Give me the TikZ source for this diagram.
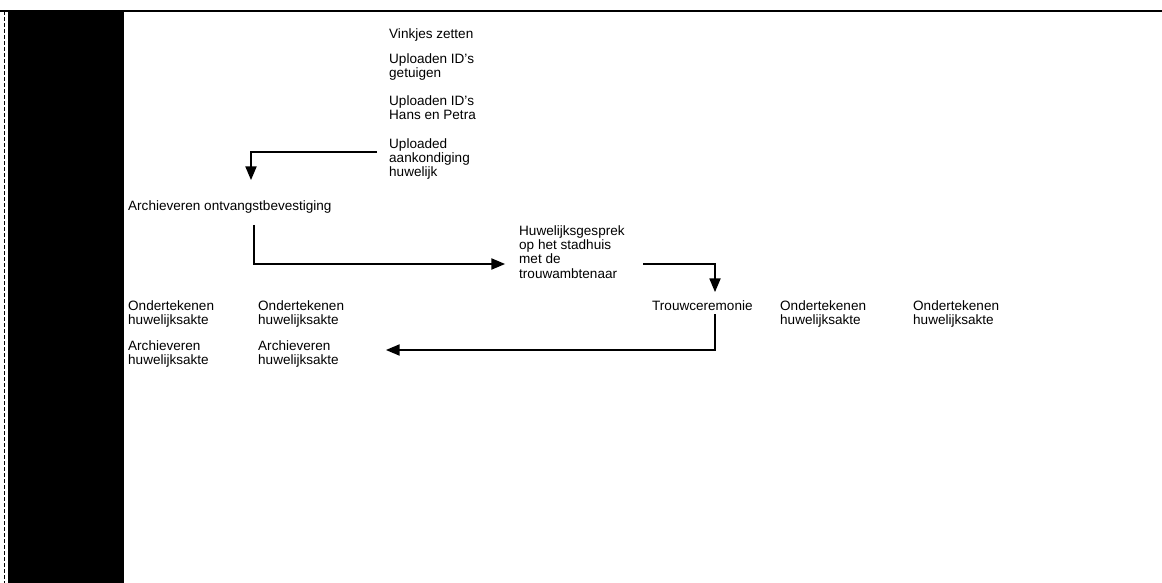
\documentclass[tikz,border=0pt]{standalone}
\usepackage{fontspec}
\setmainfont{Liberation Sans}
\usepackage{xcolor}
\usetikzlibrary{arrows}

\begin{document}
\begin{tikzpicture}[x=1bp,y=-1bp]
\tikzset{step text/.style={anchor=north west,inner sep=0pt,align=left,font=\fontsize{13.6}{14.5}\selectfont}}
\tikzset{flow/.style={line width=2.2bp,-triangle 45}}
\tikzset{rule/.style={line width=1.6bp}}

\useasboundingbox (0,0) rectangle (1162,583);
\fill[white] (0,0) rectangle (1162,583);
\fill[black] (8,11) rectangle (124,583);
\draw[rule] (0,11) -- (1162,11);
\draw[line width=0.8bp,dash pattern=on 4bp off 2bp] (4,11) -- (4,583);

\node[step text] (vink) at (389,28) {Vinkjes zetten};
\node[step text] (getuigen) at (389,53) {Uploaden ID's\\getuigen};
\node[step text] (hanspetra) at (389,95) {Uploaden ID's\\Hans en Petra};
\node[step text] (aankondiging) at (389,138) {Uploaded\\aankondiging\\huwelijk};
\node[step text] (ontvangst) at (128,200) {Archieveren ontvangstbevestiging};
\node[step text] (gesprek) at (519,225) {Huwelijksgesprek\\op het stadhuis\\met de\\trouwambtenaar};
\node[step text] (ceremonie) at (652,300) {Trouwceremonie};
\node[step text] (tekenA) at (128,300) {Ondertekenen\\huwelijksakte};
\node[step text] (tekenB) at (258,300) {Ondertekenen\\huwelijksakte};
\node[step text] (tekenC) at (780,300) {Ondertekenen\\huwelijksakte};
\node[step text] (tekenD) at (913,300) {Ondertekenen\\huwelijksakte};
\node[step text] (aktearchA) at (128,340) {Archieveren\\huwelijksakte};
\node[step text] (aktearchB) at (258,340) {Archieveren\\huwelijksakte};

\draw[flow] ([shift={(-12bp,-14bp)}]aankondiging.north west) -| ([shift={(123bp,20bp)}]ontvangst.north west);
\draw[flow] ([shift={(126bp,-25bp)}]ontvangst.north west) |- ([shift={(-14bp,-39bp)}]gesprek.north west);
\draw[flow] ([shift={(124bp,-39bp)}]gesprek.north west) -| ([shift={(63bp,8bp)}]ceremonie.north west);
\draw[flow] ([shift={(63bp,-14bp)}]ceremonie.north west) |- ([shift={(128bp,-10bp)}]aktearchB.north west);

\end{tikzpicture}
\end{document}
